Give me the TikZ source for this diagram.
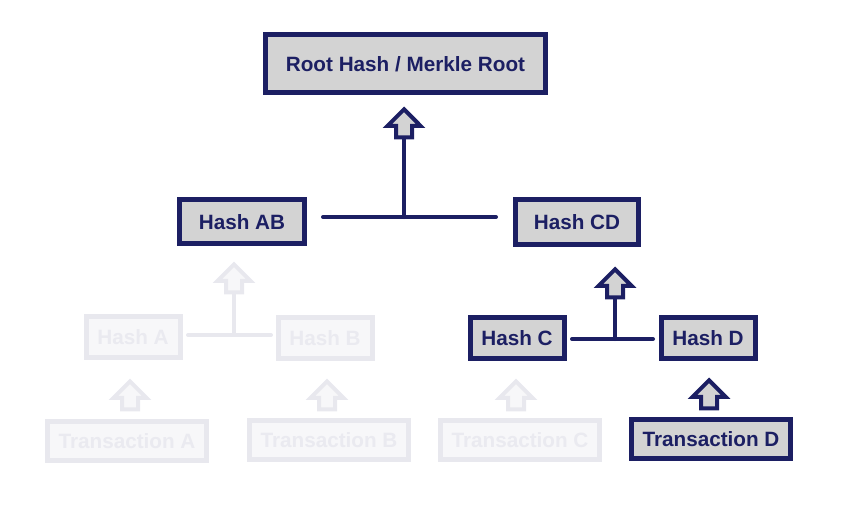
\documentclass[tikz,border=0pt]{standalone}
\usepackage{fontspec}
\setmainfont{Liberation Sans}
\usetikzlibrary{shapes.arrows}

\definecolor{navy}{RGB}{28,31,99}
\definecolor{boxgrey}{RGB}{211,211,211}
\definecolor{fadeline}{RGB}{232,232,238}
\definecolor{fadefill}{RGB}{247,247,249}
\definecolor{fadetext}{RGB}{234,234,240}

\begin{document}
\begin{tikzpicture}[x=1pt,y=-1pt,
        hashbox/.style={draw=navy, fill=boxgrey, line width=5pt, text=navy,
            font=\bfseries\fontsize{20.7}{24}\selectfont, inner sep=0pt, text depth=0pt},
        smallbox/.style={minimum width=94pt, minimum height=41pt},
        txbox/.style={minimum width=159pt, minimum height=39pt},
        faded/.style={draw=fadeline, fill=fadefill, text=fadetext},
        uparrow/.style={single arrow, rotate=90, anchor=tip, draw=navy, fill=boxgrey,
            line width=4pt, inner sep=0pt, inner ysep=6pt, minimum height=28pt,
            single arrow head extend=8.5pt},
        bar/.style={draw=navy, line width=4pt, line cap=round}]
        \useasboundingbox (0,0) rectangle (860,517);

        % the root and the two hashes under it
        \node[hashbox, minimum width=280pt, minimum height=58pt] (root) at (405.5,63.5) {Root Hash / Merkle Root};
        \node[hashbox, minimum width=125pt, minimum height=44pt] (hashAB) at (242,221.5) {Hash AB};
        \node[hashbox, minimum width=123pt, minimum height=45pt] (hashCD) at (577,222) {Hash CD};

        % the leaf hashes (A, B and C are greyed out)
        \node[hashbox, smallbox, faded] (hashA) at (133,337) {Hash A};
        \node[hashbox, smallbox, faded] (hashB) at (325,338) {Hash B};
        \node[hashbox, smallbox] (hashC) at (517,338) {Hash C};
        \node[hashbox, smallbox] (hashD) at (708,338) {Hash D};

        % the transactions
        \node[hashbox, txbox, faded] (txA) at (127,441) {Transaction A};
        \node[hashbox, txbox, faded] (txB) at (329,440) {Transaction B};
        \node[hashbox, txbox, faded] (txC) at (520,440) {Transaction C};
        \node[hashbox, txbox] (txD) at (711,439) {Transaction D};

        % the block arrows
        \node[uparrow] (upRoot) at (404,106.5) {};
        \node[uparrow, faded] (upAB) at (234,261.5) {};
        \node[uparrow] (upCD) at (615,266.5) {};
        \node[uparrow, faded] (upA) at (130,378.5) {};
        \node[uparrow, faded] (upB) at (327,378.5) {};
        \node[uparrow, faded] (upC) at (516,378.5) {};
        \node[uparrow] (upD) at (709,377.5) {};

        % the ends of the bars between pairs
        \coordinate (barABL) at (323,217);
        \coordinate (barABR) at (496,217);
        \coordinate (barAL) at (188,335);
        \coordinate (barAR) at (271,335);
        \coordinate (barCL) at (572,339);
        \coordinate (barCR) at (653,339);

        % draw the bars
        \draw[bar] (barABL) -- (barABR);
        \draw[bar] (upRoot.tail) -- (upRoot.tail |- barABL);
        \draw[bar, draw=fadeline] (barAL) -- (barAR);
        \draw[bar, draw=fadeline] (upAB.tail) -- (upAB.tail |- barAL);
        \draw[bar] (barCL) -- (barCR);
        \draw[bar] (upCD.tail) -- (upCD.tail |- barCL);

\end{tikzpicture}
\end{document}
